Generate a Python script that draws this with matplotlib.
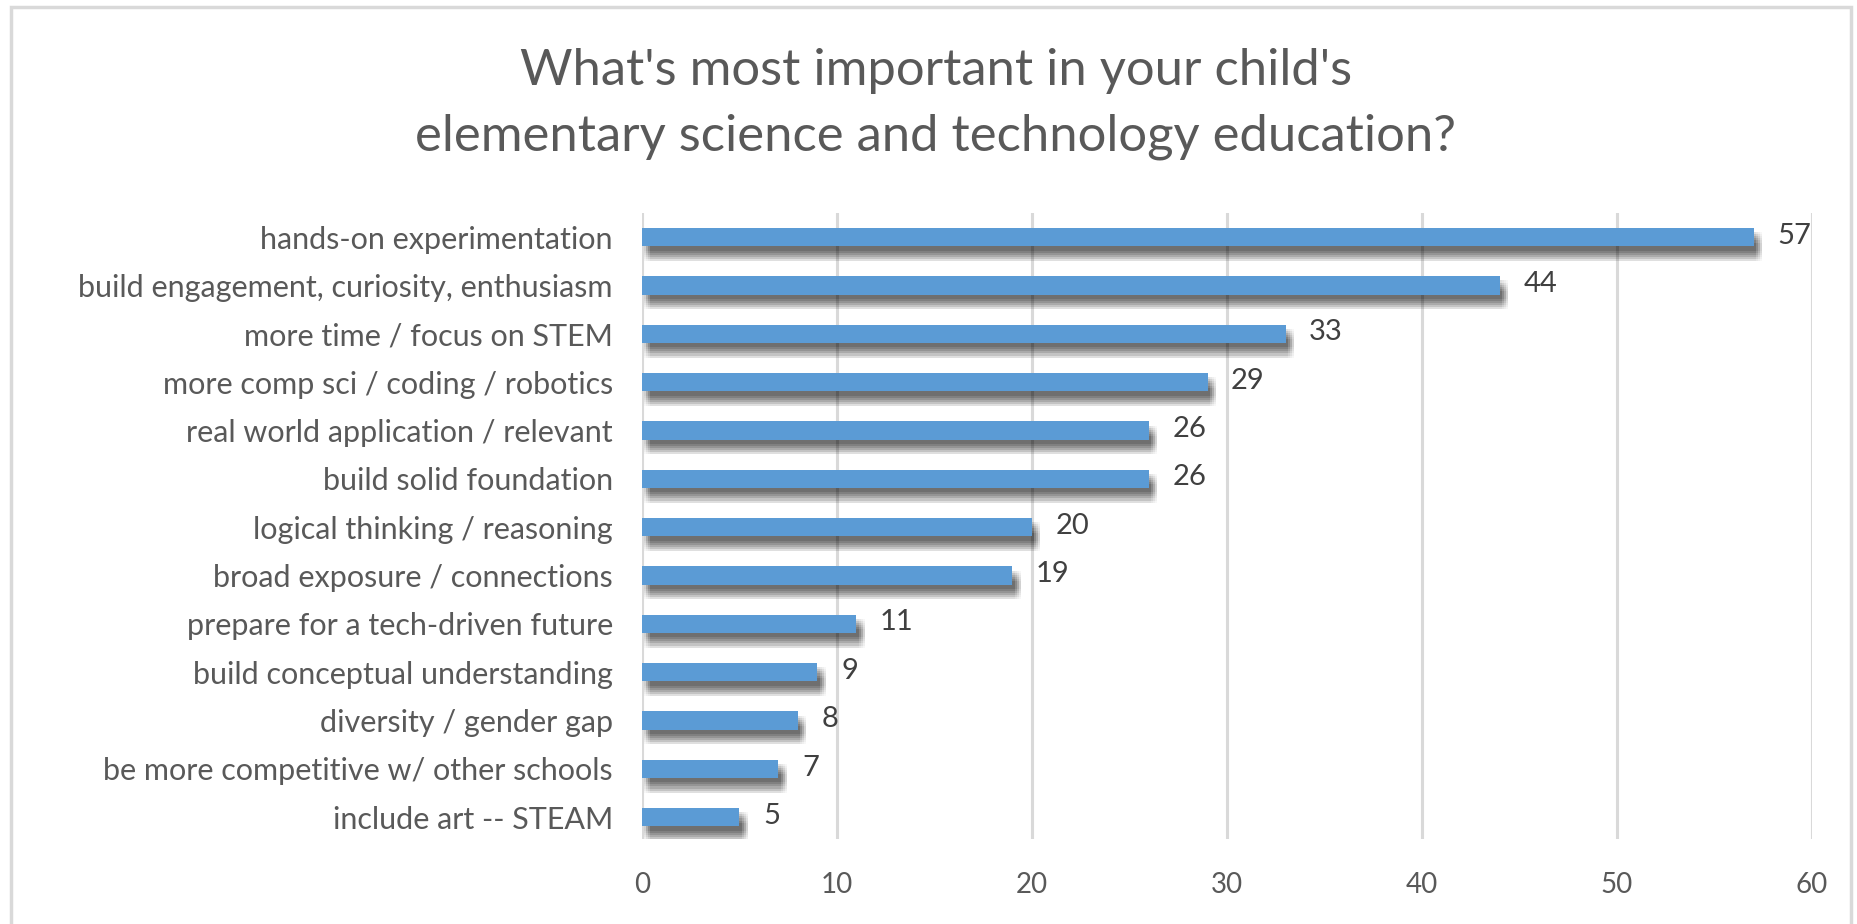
import matplotlib
matplotlib.use("Agg")
import matplotlib.pyplot as plt
import matplotlib.patheffects as pe
from matplotlib.patches import Rectangle

categories = [
    "hands-on experimentation",
    "build engagement, curiosity, enthusiasm",
    "more time / focus on STEM",
    "more comp sci / coding / robotics",
    "real world application / relevant",
    "build solid foundation",
    "logical thinking / reasoning",
    "broad exposure / connections",
    "prepare for a tech-driven future",
    "build conceptual understanding",
    "diversity / gender gap",
    "be more competitive w/ other schools",
    "include art -- STEAM",
]
values = [57, 44, 33, 29, 26, 26, 20, 19, 11, 9, 8, 7, 5]
x_ticks = [0, 10, 20, 30, 40, 50, 60]
title = "What's most important in your child's\nelementary science and technology education?"

BAR = "#5B9BD5"
GRID = "#D9D9D9"
TEXT = "#595959"

plt.rcParams["font.family"] = ["Lato", "DejaVu Sans"]

fig = plt.figure(figsize=(18.58, 9.24), dpi=100)
ax = fig.add_axes([642 / 1858, 1 - 839 / 924, (1812 - 642) / 1858, (839 - 213) / 924])

# fake a soft drop shadow with a stack of faint offset copies
shadow = []
for dx in (1.5, 3.0, 4.5, 6.0):
    for dy in (-3.0, -4.5, -6.0, -7.5, -9.0, -10.5):
        shadow.append(pe.SimplePatchShadow(offset=(dx, dy), shadow_rgbFace="black", alpha=0.03))
shadow.append(pe.Normal())

pos = list(range(len(categories)))
bars = ax.barh(pos, values, height=0.38, color=BAR, zorder=3)
for b in bars:
    b.set_path_effects(shadow)

for p, v in zip(pos, values):
    ax.annotate(str(v), (v, p), xytext=(17, 1), textcoords="offset points",
                va="center", ha="left", fontsize=21, color="#404040")

ax.set_xlim(0, 60)
ax.set_ylim(12.45, -0.5)
ax.set_xticks(x_ticks)
ax.set_yticks(pos)
ax.set_yticklabels(categories)
ax.tick_params(axis="y", length=0, pad=21, labelsize=22, labelcolor=TEXT)
ax.tick_params(axis="x", length=0, pad=24, labelsize=20, labelcolor=TEXT)
ax.grid(axis="x", color=GRID, linewidth=2.2)
ax.set_axisbelow(True)
for s in ax.spines.values():
    s.set_visible(False)

fig.text(936 / 1858, 1 - 104 / 924, title, ha="center", va="center",
         fontsize=36.5, color=TEXT, linespacing=1.5)

# outer chart frame
fig.patches.append(Rectangle((11 / 1858, -0.01), 1840 / 1858, 1 - 7 / 924 + 0.01,
                             transform=fig.transFigure, fill=False,
                             edgecolor=GRID, linewidth=2.5))

fig.savefig("out.png", dpi=100)
